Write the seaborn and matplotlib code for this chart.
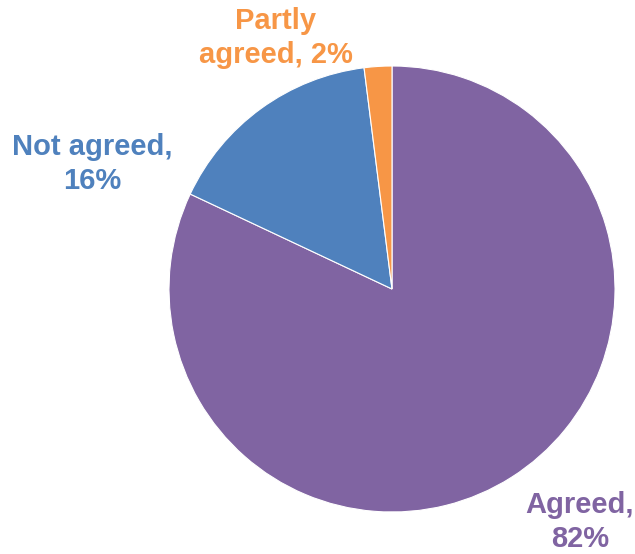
import matplotlib
matplotlib.use("Agg")
import matplotlib.pyplot as plt
import seaborn as sns

categories = ["Agreed", "Not agreed", "Partly agreed"]
values = [82, 16, 2]
colors = ["#8064A2", "#4F81BD", "#F79646"]
label_texts = ["Agreed,\n82%", "Not agreed,\n16%", "Partly\nagreed, 2%"]

sns.set_theme(style="white")
plt.rcParams['font.family'] = ['Liberation Sans', 'DejaVu Sans']

W, H = 635, 554
fig = plt.figure(figsize=(W / 100, H / 100), dpi=100)
ax = fig.add_axes([0, 0, 1, 1])

cx, cy, r = 392, H - 289, 223
ax.pie(values, colors=colors, startangle=90, counterclock=False,
       center=(cx, cy), radius=r, frame=True,
       wedgeprops=dict(linewidth=0.8, edgecolor='white'))
ax.set_xlim(0, W)
ax.set_ylim(0, H)
ax.set_aspect('equal')
ax.axis('off')

label_pos = [(580, H - 522), (92, H - 164), (276, H - 38)]
for txt, (x, y), c in zip(label_texts, label_pos, colors):
    ax.text(x, y, txt, ha='center', va='center', color=c, fontsize=21,
            fontweight='bold', linespacing=1.27)

fig.savefig("out.png", dpi=100)
